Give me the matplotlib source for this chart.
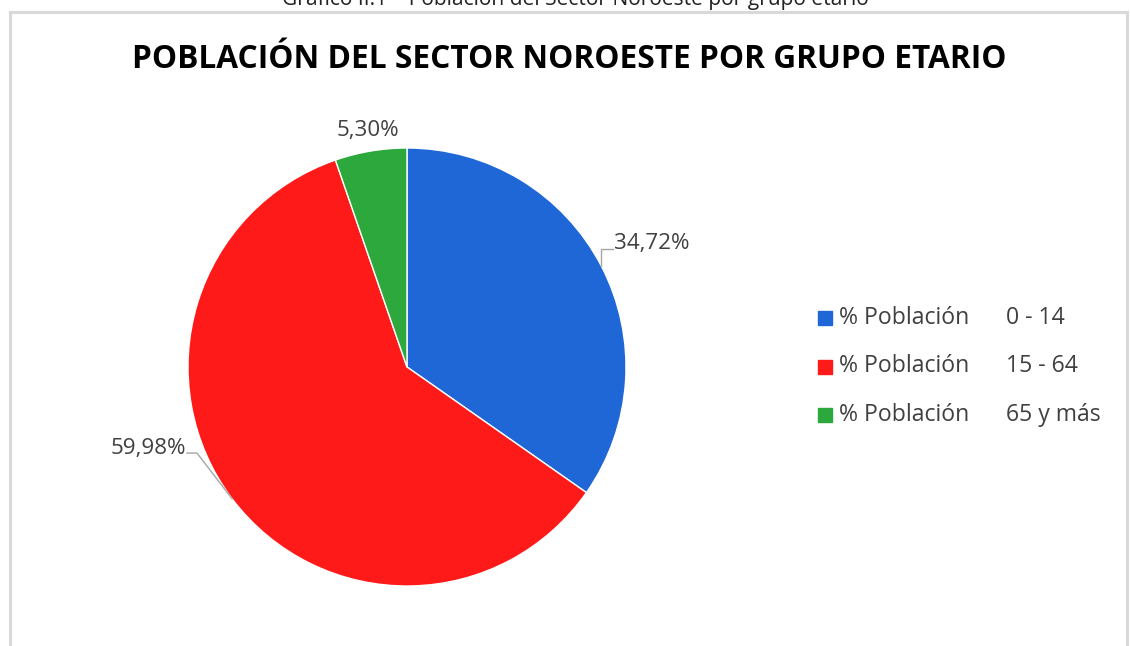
import numpy as np
import matplotlib
matplotlib.use("Agg")
import matplotlib.pyplot as plt
from matplotlib.lines import Line2D
from matplotlib.patches import Rectangle

# data
groups = ["0 - 14", "15 - 64", "65 y más"]
shares = [34.72, 59.98, 5.30]
share_labels = ["34,72%", "59,98%", "5,30%"]
colors = ["#1F66D6", "#FF1A1A", "#2CA83C"]

W, H = 1130, 646
plt.rcParams["font.family"] = ["Open Sans", "DejaVu Sans"]

fig = plt.figure(figsize=(W / 100, H / 100), dpi=100)
fig.patch.set_facecolor("white")


def px(x, y):
    return x / W, 1 - y / H


def fit_text(x, y, s, width_px, size, **kw):
    t = fig.text(*px(x, y), s, fontsize=size, **kw)
    r = fig.canvas.get_renderer()
    w = t.get_window_extent(r).width
    t.set_fontsize(size * width_px / w)
    return t


# chart area border (bottom runs off the image)
for xs, ys in [([10, 10], [12, 660]), ([10, 1127], [12, 12]), ([1127, 1127], [12, 660])]:
    fig.add_artist(Line2D([x / W for x in xs], [1 - y / H for y in ys],
                          color="#D9D9D9", lw=2.2, transform=fig.transFigure))

# caption above the chart, cut at the top edge as in the source
fit_text(575, 0, "Gráfico II.1 – Población del Sector Noroeste por grupo etario",
         587, 13, ha="center", va="center", color="#222222")

# title
fit_text(569, 59, "POBLACIÓN DEL SECTOR NOROESTE POR GRUPO ETARIO",
         872, 22, ha="center", va="center", fontweight="bold", color="black")

# pie
cx, cy, r = 407, 367, 219
ax = fig.add_axes([(cx - r) / W, (H - cy - r) / H, 2 * r / W, 2 * r / H])
wedges, _ = ax.pie(shares, colors=colors, startangle=90, counterclock=False,
                   wedgeprops=dict(edgecolor="white", linewidth=1.0))
ax.set_xlim(-1, 1)
ax.set_ylim(-1, 1)
ax.set_aspect("equal")
ax.axis("off")


def edge_point(w):
    a = np.deg2rad((w.theta1 + w.theta2) / 2)
    return np.cos(a), np.sin(a)


lab_kw = dict(fontsize=16.1, color="#404040", va="center")
lead = dict(color="#A6A6A6", lw=1.0, clip_on=False)

# 34,72%
ex, ey = edge_point(wedges[0])
ax.plot([ex, ex, 0.94], [ey, 0.54, 0.54], **lead)
ax.text(0.945, 0.566, share_labels[0], ha="left", **lab_kw)

# 59,98%
ex, ey = edge_point(wedges[1])
ax.plot([ex, -0.959, -1.005], [ey, -0.393, -0.393], **lead)
ax.text(-1.009, -0.374, share_labels[1], ha="right", **lab_kw)

# 5,30%
ax.text(-0.178, 1.078, share_labels[2], ha="center", **lab_kw)

# legend
for i, (g, c) in enumerate(zip(groups, colors)):
    y = 318 + 48.5 * i
    fig.add_artist(Rectangle(px(818, y + 7), 14 / W, 14 / H, color=c,
                             transform=fig.transFigure))
    fig.text(*px(839, y), "% Población", fontsize=16.6, color="#404040",
             ha="left", va="center")
    fig.text(*px(1006, y), g, fontsize=16.6, color="#404040",
             ha="left", va="center")

fig.savefig("out.png", dpi=100)
